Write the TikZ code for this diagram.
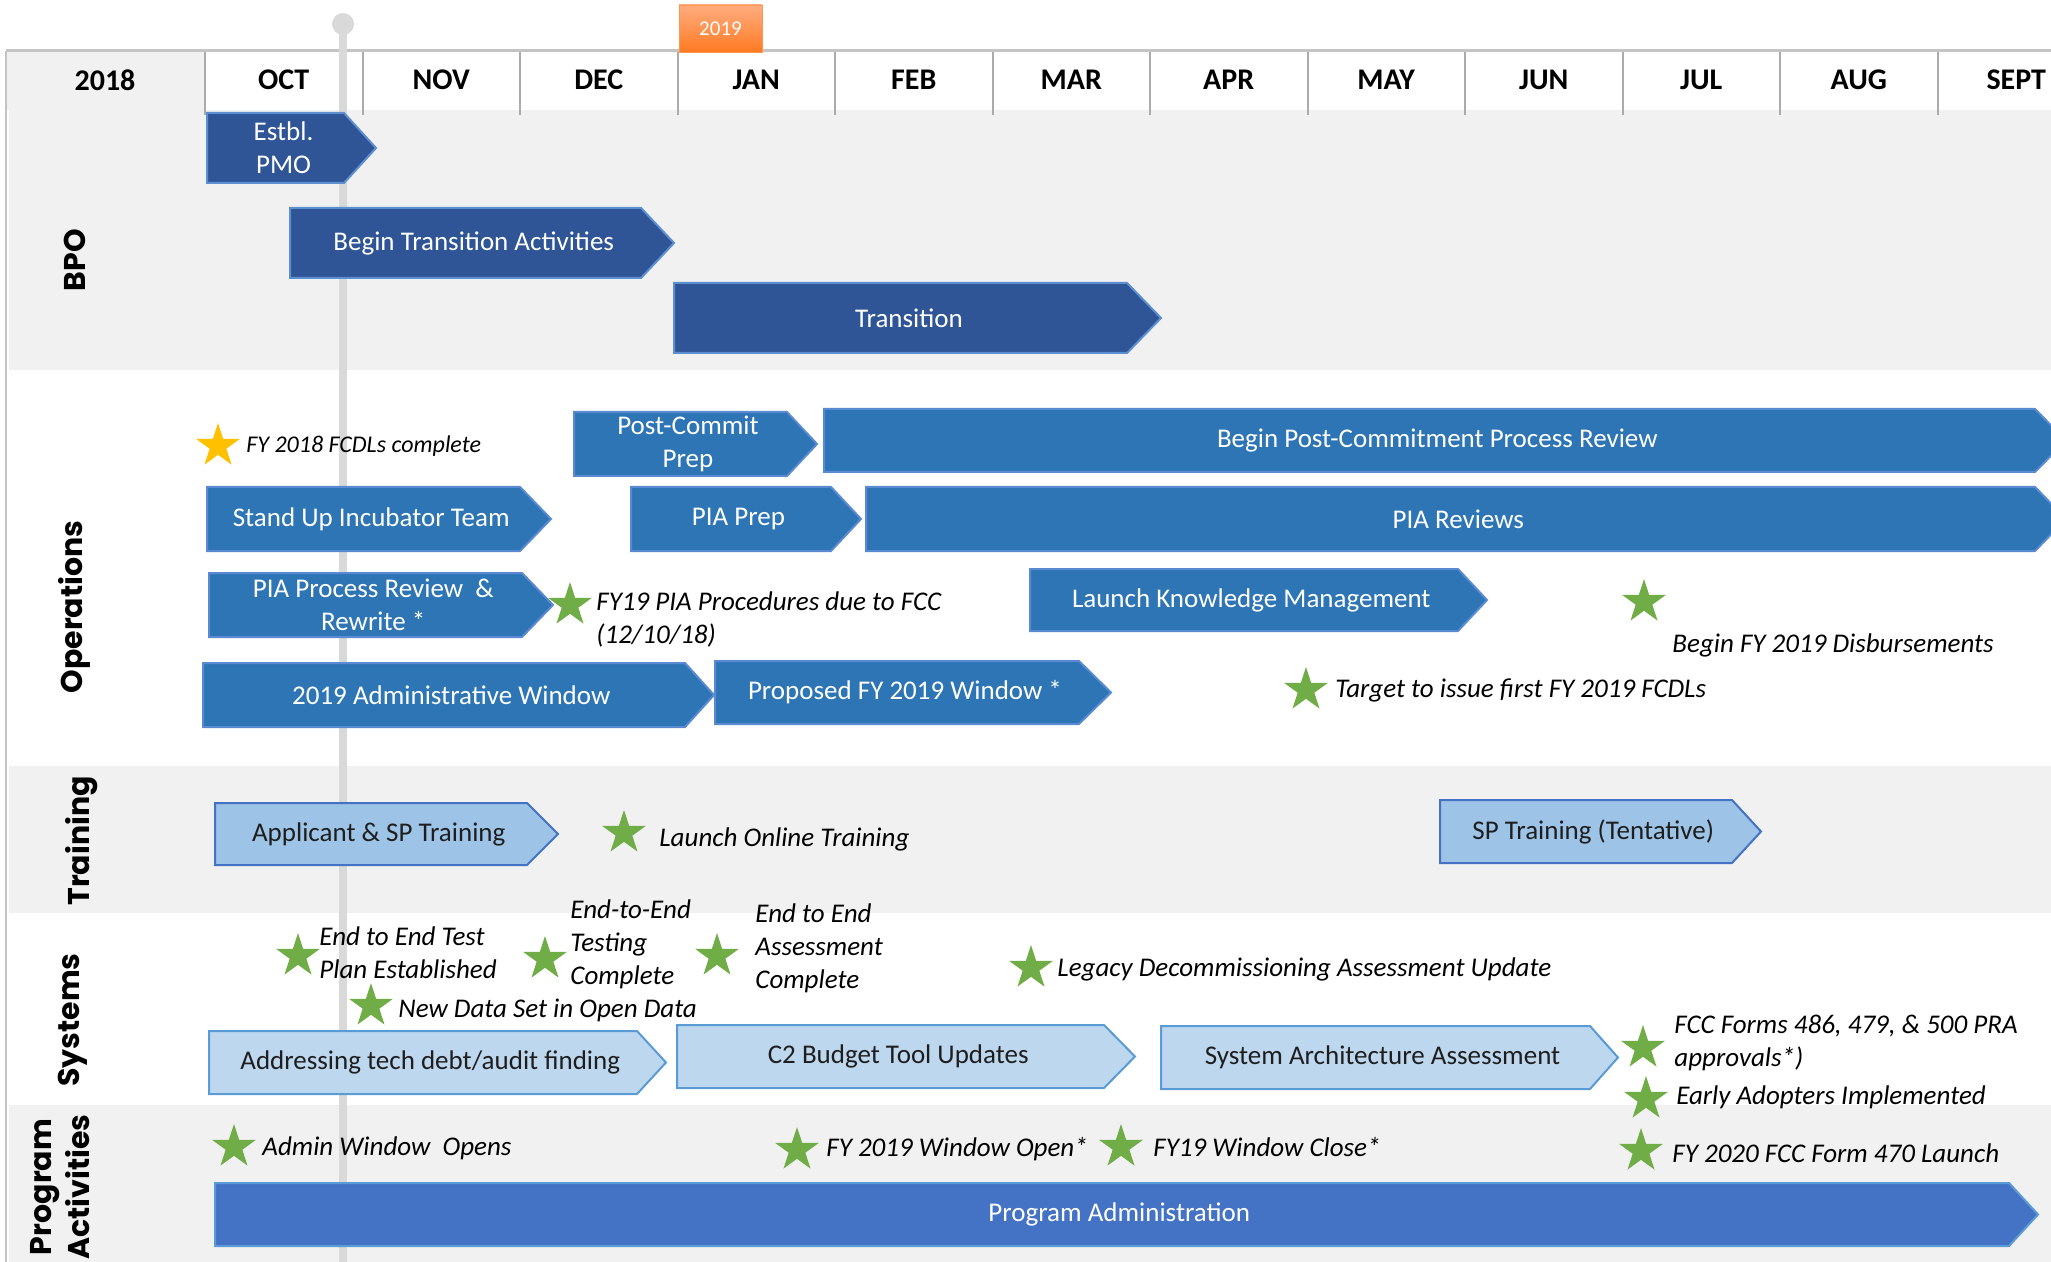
\documentclass[tikz,border=0pt]{standalone}
\usepackage{fontspec}
\setmainfont{Carlito}
\newfontfamily\lanefont{Poppins}
\usepackage{tikz}
\usetikzlibrary{shapes.geometric,calc}
\definecolor{LaneGrey}{HTML}{F1F1F1}
\definecolor{HeadLine}{HTML}{C4C4C4}
\definecolor{DividerGrey}{HTML}{ABABAB}
\definecolor{NowGrey}{HTML}{D9D9D9}
\definecolor{BpoBlue}{HTML}{2F5597}
\definecolor{BpoEdge}{HTML}{5B8FD0}
\definecolor{OpsBlue}{HTML}{2E75B6}
\definecolor{OpsEdge}{HTML}{5A8AD2}
\definecolor{TrainBlue}{HTML}{9DC3E6}
\definecolor{TrainEdge}{HTML}{4472C4}
\definecolor{SysBlue}{HTML}{BDD7EE}
\definecolor{SysEdge}{HTML}{5B9BD5}
\definecolor{ProgBlue}{HTML}{4472C4}
\definecolor{ProgEdge}{HTML}{5B9BD5}
\definecolor{BarInk}{HTML}{1E1E1E}
\definecolor{StarGreen}{HTML}{70AD47}
\definecolor{StarGold}{HTML}{FFC000}
\definecolor{TagTop}{HTML}{FFAD80}
\definecolor{TagBottom}{HTML}{FF7A22}
\tikzset{
  lanelabel/.style={rotate=90, align=center, inner sep=0pt,
    font=\lanefont\bfseries\fontsize{15}{19}\selectfont},
  month/.style={inner sep=0pt, font=\bfseries\fontsize{15}{18}\selectfont},
  divider/.style={draw=DividerGrey, line width=1pt},
  nowline/.style={draw=NowGrey, line width=4pt},
  yeartag/.style={rectangle, top color=TagTop, bottom color=TagBottom, draw=TagBottom!80,
    text=white, minimum width=41.5pt, minimum height=23.5pt, inner sep=0pt,
    font=\fontsize{10.5}{12}\selectfont},
  bartext/.style={draw=none, fill=none, align=center, inner sep=0pt,
    font=\fontsize{13.5}{16.5}\selectfont},
  bpobar/.style={fill=BpoBlue, draw=BpoEdge, line width=1pt, text=white},
  opsbar/.style={fill=OpsBlue, draw=OpsEdge, line width=1pt, text=white},
  trainbar/.style={fill=TrainBlue, draw=TrainEdge, line width=1pt, text=BarInk},
  sysbar/.style={fill=SysBlue, draw=SysEdge, line width=1pt, text=BarInk},
  progbar/.style={fill=ProgBlue, draw=ProgEdge, line width=1pt, text=white},
  milestone/.style={star, star points=5, star point ratio=2.618, fill=StarGreen,
    draw=none, minimum size=23pt, inner sep=0pt},
  note/.style={anchor=west, align=left, inner sep=0pt,
    font=\itshape\fontsize{13.5}{16.5}\selectfont}
}
% #1 name, #2 style, #3 left, #4 body end, #5 tip, #6 top, #7 bottom, #8 text
\newcommand{\phasebar}[8]{%
  \draw[#2] (#3,#6) -- (#4,#6) -- (#5,{(#6+#7)/2}) -- (#4,#7) -- (#3,#7) -- cycle;
  \node[#2, bartext] (#1) at ({(#3+#4)/2+(#5-#4)/4},{(#6+#7)/2}) {#8};
}

\begin{document}
\begin{tikzpicture}[x=0.5pt, y=-0.5pt]
  \useasboundingbox (0,0) rectangle (2051,1262);
  \clip (0,0) rectangle (2051,1262);
  % lanes
  \fill[LaneGrey] (9,110) rectangle (2051,370);
  \fill[LaneGrey] (9,766) rectangle (2051,913);
  \fill[LaneGrey] (9,1105) rectangle (2051,1262);
  % header
  \fill[LaneGrey] (7,52) rectangle (205,110);
  \draw[HeadLine, line width=1.5pt] (6,51) -- (2051,51);
  \draw[HeadLine, line width=1pt] (6,51) -- (6,1262);
  \node[month] (y2018) at (105,80) {2018};
  \foreach \m [count=\i from 0] in {OCT,NOV,DEC,JAN,FEB,MAR,APR,MAY,JUN,JUL,AUG,SEPT} {
    \draw[divider] ({205+157.5*\i},52) -- ++(0,63);
    \node[month] (m\i) at ({283.75+157.5*\i},80) {\m};
  }
  \node[yeartag] (y2019) at (720.5,28.5) {2019};
  % today marker
  \node[circle, fill=NowGrey, minimum size=11pt, inner sep=0pt] (knob) at (343,24) {};
  \coordinate (nowend) at (343,1262);
  \draw[nowline] (knob.center) -- (nowend);

  \node[lanelabel] (lbpo) at (75,260) {BPO};
  \node[lanelabel] (lops) at (74,607) {Operations};
  \node[lanelabel] (ltrain) at (82,841) {Training};
  \node[lanelabel] (lsys) at (73,1020) {Systems};
  \node[lanelabel] (lprog) at (60,1187) {Program\\Activities};

  % BPO
  \phasebar{pmo}{bpobar}{207}{344}{376}{113}{183}{Estbl.\\PMO}
  \phasebar{bta}{bpobar}{290}{641}{674}{208}{278}{Begin Transition Activities}
  \phasebar{trans}{bpobar}{674}{1127}{1161}{283}{353}{Transition}

  % Operations
  \phasebar{pcp}{opsbar}{574}{787}{817}{412}{476}{Post-Commit\\Prep}
  \phasebar{bpcr}{opsbar}{824}{2035}{2066}{409}{472}{Begin Post-Commitment Process Review}
  \phasebar{suit}{opsbar}{207}{520}{551}{487}{551}{Stand Up Incubator Team}
  \phasebar{piap}{opsbar}{631}{831}{861}{487}{551}{PIA Prep}
  \phasebar{piar}{opsbar}{866}{2035}{2066}{487}{551}{PIA Reviews}
  \phasebar{ppr}{opsbar}{209}{522}{553}{573}{637}{PIA Process Review \ \&\\Rewrite *}
  \phasebar{lkm}{opsbar}{1030}{1458}{1487}{569}{631}{Launch Knowledge Management}
  \phasebar{adw}{opsbar}{203}{685}{714}{663}{727}{2019 Administrative Window}
  \phasebar{pfw}{opsbar}{715}{1079}{1111}{661}{724}{Proposed FY 2019 Window *}

  \node[milestone, fill=StarGold] (s1) at (218,446) {};
  \node[note, font=\itshape\fontsize{12}{14}\selectfont] (n1) at (246,446) {FY 2018 FCDLs complete};
  \node[milestone] (s2) at (570,605) {};
  \node[note] (n2) at (596,619) {FY19 PIA Procedures due to FCC\\(12/10/18)};
  \node[milestone] (s3) at (1644,602) {};
  \node[note] (n3) at (1672,645) {Begin FY 2019 Disbursements};
  \node[milestone] (s4) at (1306,690) {};
  \node[note] (n4) at (1335,690) {Target to issue first FY 2019 FCDLs};

  % Training
  \phasebar{ast}{trainbar}{215}{527}{558}{803}{865}{Applicant \& SP Training}
  \phasebar{spt}{trainbar}{1440}{1732}{1761}{800}{863}{SP Training (Tentative)}
  \node[milestone] (s5) at (624,833) {};
  \node[note] (n5) at (659,839) {Launch Online Training};

  % Systems
  \phasebar{tdebt}{sysbar}{209}{637}{666}{1031}{1094}{Addressing tech debt/audit finding}
  \phasebar{c2}{sysbar}{677}{1104}{1135}{1025}{1088}{C2 Budget Tool Updates}
  \phasebar{saa}{sysbar}{1161}{1590}{1618}{1026}{1089}{System Architecture Assessment}
  \node[milestone] (s6) at (298,956) {};
  \node[note] (n6) at (319,953) {End to End Test\\Plan Established};
  \node[milestone] (s7) at (545,959) {};
  \node[note] (n7) at (570,944) {End-to-End\\Testing\\Complete};
  \node[milestone] (s8) at (717,956) {};
  \node[note] (n8) at (755,948) {End to End\\Assessment\\Complete};
  \node[milestone] (s9) at (1031,968) {};
  \node[note] (n9) at (1057,969) {Legacy Decommissioning Assessment Update};
  \node[milestone] (s10) at (371,1006) {};
  \node[note] (n10) at (398,1010) {New Data Set in Open Data};
  \node[milestone] (s11) at (1643,1048) {};
  \node[note] (n11) at (1674,1043) {FCC Forms 486, 479, \& 500 PRA\\approvals*)};
  \node[milestone] (s12) at (1646,1099) {};
  \node[note] (n12) at (1676,1097) {Early Adopters Implemented};

  % Program activities
  \phasebar{padm}{progbar}{215}{2009}{2038}{1183}{1246}{Program Administration}
  \node[milestone] (s13) at (234,1147) {};
  \node[note] (n13) at (262,1148) {Admin Window \ Opens};
  \node[milestone] (s14) at (797,1150) {};
  \node[note] (n14) at (826,1149) {FY 2019 Window Open*};
  \node[milestone] (s15) at (1121,1147) {};
  \node[note] (n15) at (1153,1147) {FY19 Window Close*};
  \node[milestone] (s16) at (1641,1151) {};
  \node[note] (n16) at (1672,1153) {FY 2020 FCC Form 470 Launch};
\end{tikzpicture}
\end{document}
